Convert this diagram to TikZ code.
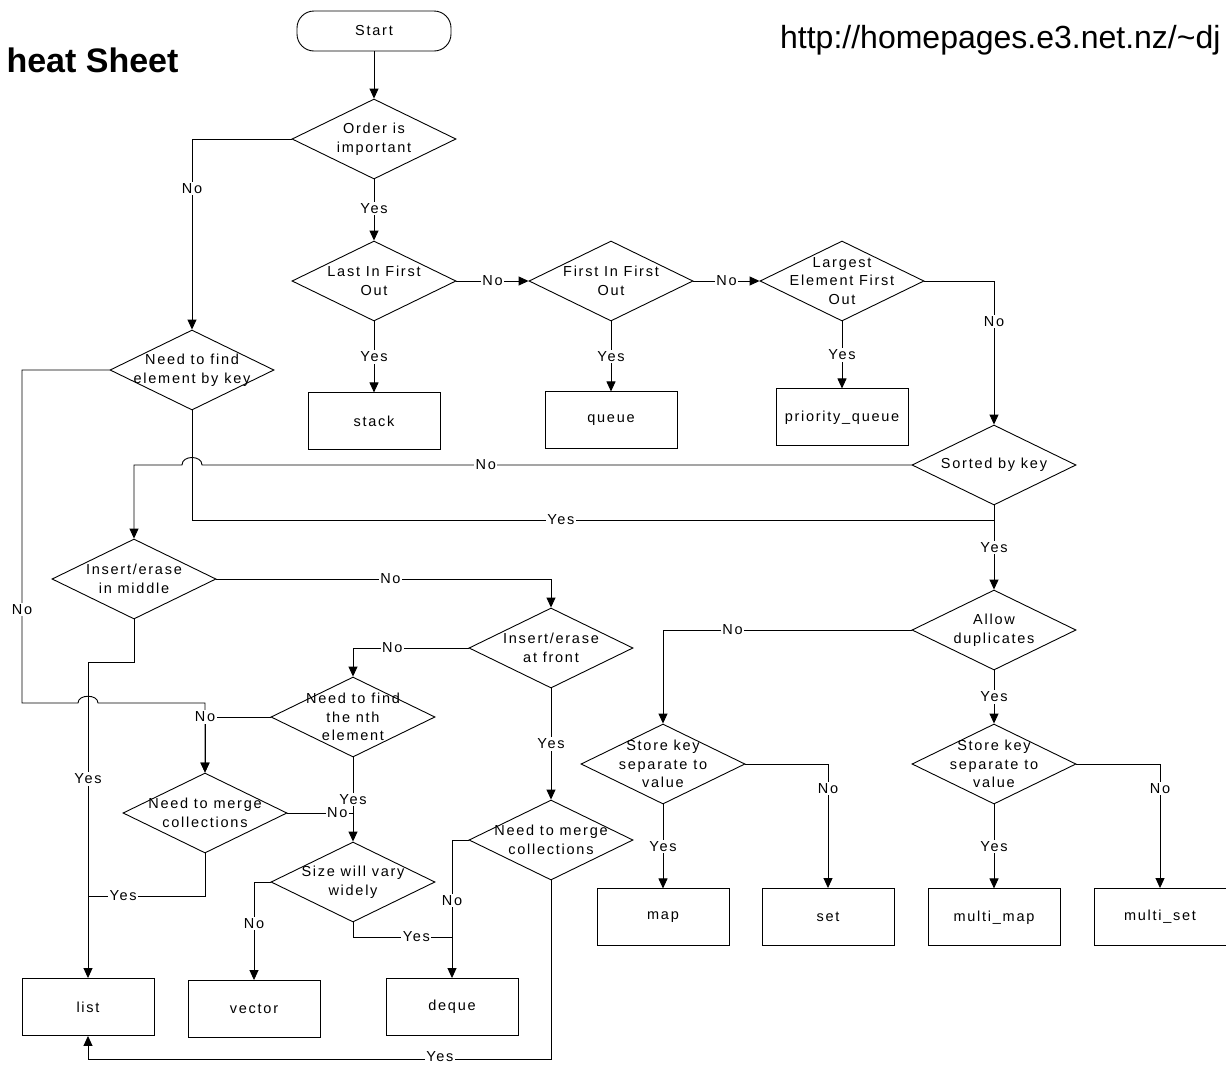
\documentclass[tikz,border=0pt]{standalone}
\usepackage{fontspec}
\setmainfont{Liberation Sans}
\newfontfamily\chartfamily[LetterSpace=12]{Liberation Sans}
\newcommand\chartfont{\chartfamily\fontsize{14.5}{18.5}\selectfont}
\usetikzlibrary{shapes.geometric,arrows.meta,positioning}
\tikzset{
  decision box/.style={
    diamond,
    draw,
    line width=0.9pt,
    minimum width=164pt,
    minimum height=80pt,
    inner sep=0pt,
    label={[align=center, font=\chartfont]center:{#1}},
  },
  result box/.style={
    draw,
    line width=0.9pt,
    minimum width=132pt,
    minimum height=57pt,
    font=\chartfont,
  },
  start box/.style={
    draw,
    line width=0.9pt,
    rounded corners=17pt,
    minimum width=154pt,
    minimum height=40pt,
    font=\chartfont,
  },
  flow/.style={
    draw,
    line width=0.9pt,
    -{Triangle[length=10pt, width=9pt]},
  },
  join line/.style={
    draw,
    line width=0.9pt,
  },
  edge label/.style={
    fill=white,
    inner sep=1.5pt,
    font=\chartfont,
  },
  title text/.style={
    font=\bfseries\fontsize{34}{40}\selectfont,
  },
  url text/.style={
    font=\fontsize{32}{38}\selectfont,
  }
}

\begin{document}
\begin{tikzpicture}[x=1pt, y=-1pt]
        \useasboundingbox (0,0) rectangle (1226,1066);
        \node [title text, anchor=base west] (title) at (3,72) {heat Sheet};
        \node [url text, anchor=base east] (url) at (1224,48) {http://homepages.e3.net.nz/\textasciitilde dj};

        \node [start box] (start) at (374,31) {Start};
        \node [decision box={Order is\\important}] (order) at (374,139) {};
        \node [decision box={Last In First\\Out}] (lifo) at (374,281) {};
        \node [decision box={First In First\\Out}] (fifo) at (611,281) {};
        \node [decision box={Largest\\Element First\\Out}] (largest) at (842,281) {};
        \node [result box, below=71pt of lifo] (stack) {stack};
        \node [result box, below=70pt of fifo] (queue) {queue};
        \node [result box, below=67pt of largest] (pqueue) {priority\_queue};

        \node [decision box={Sorted by key}] (sorted) at (994,465) {};
        \node [decision box={Allow\\duplicates}] (allow) at (994,630) {};
        \node [decision box={Store key\\separate to\\value}] (sepmap) at (663,764) {};
        \node [decision box={Store key\\separate to\\value}] (sepmulti) at (994,764) {};
        \node [result box, below=84pt of sepmap] (map) {map};
        \node [result box] (set) at (828,917) {set};
        \node [result box, below=84pt of sepmulti] (multimap) {multi\_map};
        \node [result box] (multiset) at (1160,917) {multi\_set};

        \node [decision box={Need to find\\element by key}] (findkey) at (192,370) {};
        \node [decision box={Insert/erase\\in middle}] (middle) at (134,579) {};
        \node [decision box={Insert/erase\\at front}] (front) at (551,648) {};
        \node [decision box={Need to find\\the nth\\element}] (nth) at (353,717) {};
        \node [decision box={Need to merge\\collections}] (mergeleft) at (205,813) {};
        \node [decision box={Size will vary\\widely}] (size) at (353,882) {};
        \node [decision box={Need to merge\\collections}] (mergeright) at (551,840) {};
        \node [result box] (list) at (88,1007) {list};
        \node [result box] (vector) at (254,1009) {vector};
        \node [result box] (deque) at (452,1007) {deque};

        \coordinate (keyjoin) at (994,520);
        \coordinate (middleturn) at (88,662);
        \coordinate (listjoin) at (88,896);
        \coordinate (dequejoin) at (452,937);
        \coordinate (bottomturn) at (88,1059);

        \draw [flow] (start) -- (order);
        \draw [flow] (order.west) -| node [edge label, pos=0.63] {No} (findkey.north);
        \draw [flow] (order) -- node [edge label, pos=0.47] {Yes} (lifo);
        \draw [flow] (lifo) -- node [edge label] {No} (fifo);
        \draw [flow] (fifo) -- node [edge label] {No} (largest);
        \draw [flow] (lifo) -- node [edge label] {Yes} (stack);
        \draw [flow] (fifo) -- node [edge label] {Yes} (queue);
        \draw [flow] (largest) -- node [edge label] {Yes} (pqueue);
        \draw [flow] (largest.east) -| node [edge label, pos=0.64] {No} (sorted.north);
        \draw [flow] (sorted.west) -- node [edge label, pos=0.6] {No} (202,465) .. controls (202,455) and (182,455) .. (182,465) -| (middle.north);
        \draw [flow] (sorted) -- node [edge label] {Yes} (allow);
        \draw [join line] (findkey.south) |- node [edge label, pos=0.73] {Yes} (keyjoin);
        \draw [flow] (findkey.west) -| node [edge label, pos=0.86] {No} (22,703) -- (78,703) .. controls (78,694) and (98,694) .. (98,703) -| (mergeleft.north);

        \draw [flow] (middle.east) -| node [edge label, pos=0.26] {No} (front.north);
        \draw [flow] (middle.south) |- (middleturn) -- node [edge label, pos=0.37] {Yes} (list.north);
        \draw [flow] (front.west) -| node [edge label, pos=0.33] {No} (nth.north);
        \draw [flow] (front) -- node [edge label] {Yes} (mergeright);
        \draw [flow] (nth.west) -| node [edge label] {No} (mergeleft.north);
        \draw [flow] (nth) -- node [edge label] {Yes} (size);
        \draw [join line] (mergeleft.east) -- node [edge label, pos=0.76] {No} (mergeleft.east -| size.north);
        \draw [join line] (mergeleft.south) |- node [edge label, pos=0.85] {Yes} (listjoin);
        \draw [flow] (size.west) -| node [edge label, pos=0.71] {No} (vector.north);
        \draw [join line] (size.south) |- node [edge label, pos=0.82] {Yes} (dequejoin);
        \draw [flow] (mergeright.west) -| node [edge label, pos=0.72] {No} (deque.north);
        \draw [flow] (mergeright.south) |- node [edge label, pos=0.62, yshift=2pt] {Yes} (bottomturn) -- (list.south);

        \draw [flow] (allow.west) -| node [edge label, pos=0.36] {No} (sepmap.north);
        \draw [flow] (allow) -- node [edge label] {Yes} (sepmulti);
        \draw [flow] (sepmap) -- node [edge label] {Yes} (map);
        \draw [flow] (sepmap.east) -| node [edge label, pos=0.6] {No} (set.north);
        \draw [flow] (sepmulti) -- node [edge label] {Yes} (multimap);
        \draw [flow] (sepmulti.east) -| node [edge label, pos=0.6] {No} (multiset.north);
    \end{tikzpicture}
\end{document}
